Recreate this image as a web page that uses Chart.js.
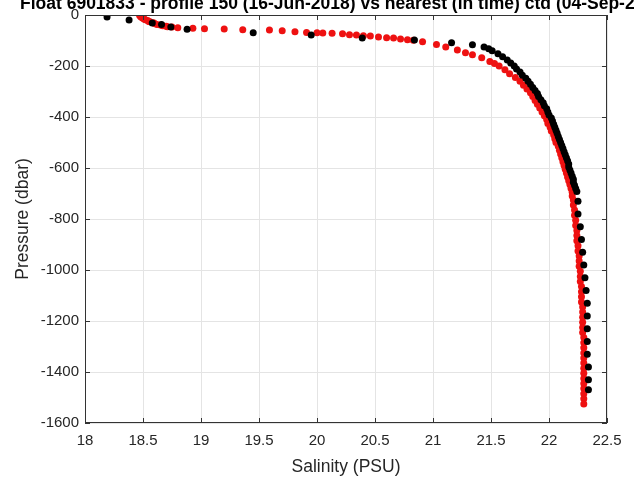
<!DOCTYPE html>
<html lang="en">
<head>
  <meta charset="UTF-8">
  <title>Float 6901833 - profile 150</title>
  <script src="https://cdn.jsdelivr.net/npm/chart.js"></script>
  <style>
    html, body { margin: 0; padding: 0; background: #fff; }
    #wrap { width: 634px; height: 479px; }
  </style>
</head>
<body>
  <div id="wrap"><canvas id="profileChart" width="634" height="479"></canvas></div>

  <script>
  const TITLE = 'Float 6901833 - profile 150 (16-Jun-2018) vs nearest (in time) ctd (04-Sep-2';
  const X_LABEL = 'Salinity (PSU)';
  const Y_LABEL = 'Pressure (dbar)';

  const xTicks = [18, 18.5, 19, 19.5, 20, 20.5, 21, 21.5, 22, 22.5];
  const yTicks = [-1600, -1400, -1200, -1000, -800, -600, -400, -200, 0];

  // float profile (red)
  const floatSal = [
    18.47, 18.48, 18.48, 18.49, 18.50, 18.51, 18.52, 18.54, 18.55, 18.56, 18.59, 18.60,
    18.62, 18.65, 18.67, 18.70, 18.71, 18.75, 18.80, 18.93, 19.03, 19.20, 19.36, 19.59,
    19.70, 19.81, 19.91, 20.00, 20.05, 20.13, 20.22, 20.28, 20.34, 20.40, 20.46, 20.53,
    20.60, 20.66, 20.72, 20.78, 20.83, 20.91, 21.03, 21.11, 21.21, 21.28, 21.34, 21.42,
    21.49, 21.53,
    21.57, 21.62, 21.66, 21.71, 21.75, 21.78, 21.81, 21.84, 21.86, 21.88, 21.90, 21.92,
    21.94, 21.96, 21.98, 21.99, 22.01, 22.02, 22.04, 22.05, 22.06, 22.08, 22.09, 22.10,
    22.11, 22.12, 22.13, 22.14, 22.15, 22.16, 22.17, 22.18, 22.19, 22.20, 22.20, 22.21,
    22.21, 22.22, 22.22, 22.23, 22.23, 22.24, 22.24, 22.24, 22.25, 22.25, 22.26, 22.26,
    22.26, 22.27, 22.27, 22.27, 22.28, 22.28, 22.28, 22.28, 22.29, 22.29, 22.29, 22.29,
    22.29, 22.29, 22.30, 22.30, 22.30, 22.30, 22.30, 22.30, 22.30, 22.30, 22.30, 22.30,
    22.30, 22.30, 22.30, 22.30
  ];
  const floatPres = [
    -1, -4, -7, -10, -13, -16, -19, -22, -25, -26, -30, -33,
    -37, -39, -42, -44, -46, -47, -50, -52, -54, -55, -58, -59,
    -62, -66, -69, -70, -71, -72, -74, -77, -78, -81, -82, -86,
    -89, -90, -94, -97, -99, -105, -116, -125, -137, -148, -156, -168,
    -182, -190,
    -200, -215, -230, -245, -260, -275, -290, -305, -320, -335, -350, -365,
    -380, -395, -410, -425, -440, -455, -470, -485, -500, -515, -530, -545,
    -560, -575, -590, -605, -620, -635, -650, -665, -680, -695, -710, -725,
    -745, -765, -785, -805, -825, -845, -865, -885, -905, -925, -945, -965,
    -985, -1005, -1025, -1045, -1065, -1085, -1105, -1125, -1145, -1165, -1185, -1205,
    -1225, -1245, -1265, -1285, -1305, -1325, -1345, -1365, -1385, -1405, -1425, -1445,
    -1465, -1485, -1505, -1525
  ];

  // nearest ctd cast (black)
  const ctdSal = [
    18.19, 18.38, 18.58, 18.66, 18.74, 18.88, 19.45, 19.95, 20.39, 20.84, 21.16, 21.34,
    21.44, 21.48,
    21.51, 21.56, 21.60, 21.64, 21.67, 21.70, 21.72, 21.75, 21.77, 21.80, 21.82, 21.84,
    21.86, 21.88, 21.90, 21.91, 21.93, 21.95, 21.96, 21.98, 21.99, 22.00, 22.02, 22.03,
    22.04, 22.05, 22.06, 22.07, 22.08, 22.09, 22.10, 22.11, 22.12, 22.13, 22.14, 22.15,
    22.16, 22.17, 22.17, 22.18, 22.19, 22.20, 22.21, 22.21, 22.22, 22.23, 22.24,
    22.25, 22.25, 22.27, 22.28, 22.29, 22.30, 22.31, 22.32, 22.33, 22.33, 22.33, 22.33,
    22.33, 22.34, 22.34, 22.34
  ];
  const ctdPres = [
    -8, -20, -31, -37, -47, -56, -70, -78, -90, -98, -109, -117,
    -125, -132,
    -140, -152, -164, -176, -188, -200, -212, -224, -236, -248, -260, -272,
    -284, -296, -308, -320, -332, -344, -356, -368, -380, -392, -404, -416,
    -428, -440, -452, -464, -476, -488, -500, -512, -524, -536, -548, -560,
    -572, -584, -596, -608, -620, -632, -644, -656, -668, -680, -692,
    -730, -780, -830, -880, -930, -980, -1030, -1080, -1130, -1180, -1230, -1280,
    -1330, -1380, -1430, -1470
  ];

  const FONT = "'Liberation Sans', Arial, Helvetica, sans-serif";
  const AXIS_COLOR = '#333333';
  const TEXT_COLOR = '#262626';

  const toPoints = (sal, pres) => sal.map((s, i) => ({ x: s, y: pres[i] }));

  // box round the axes, inward tick marks, title and axis labels
  const framePlugin = {
    id: 'frame',
    afterDraw(chart) {
      const { ctx, chartArea: a, scales } = chart;
      ctx.save();
      ctx.strokeStyle = AXIS_COLOR;
      ctx.lineWidth = 1;
      ctx.strokeRect(a.left + 0.5, a.top + 0.5, a.right - a.left - 1, a.bottom - a.top - 1);

      const tl = 5;
      ctx.beginPath();
      xTicks.forEach(v => {
        const px = Math.round(scales.x.getPixelForValue(v)) + 0.5;
        ctx.moveTo(px, a.bottom); ctx.lineTo(px, a.bottom - tl);
        ctx.moveTo(px, a.top); ctx.lineTo(px, a.top + tl);
      });
      yTicks.forEach(v => {
        const py = Math.round(scales.y.getPixelForValue(v)) + 0.5;
        ctx.moveTo(a.left, py); ctx.lineTo(a.left + tl, py);
        ctx.moveTo(a.right, py); ctx.lineTo(a.right - tl, py);
      });
      ctx.stroke();

      ctx.fillStyle = '#000';
      ctx.font = 'bold 17.5px ' + FONT;
      ctx.textAlign = 'left';
      ctx.textBaseline = 'alphabetic';
      ctx.fillText(TITLE, 20, 9);

      ctx.fillStyle = TEXT_COLOR;
      ctx.font = '17.5px ' + FONT;
      ctx.textAlign = 'center';
      ctx.textBaseline = 'middle';
      ctx.fillText(X_LABEL, (a.left + a.right) / 2, 467);

      ctx.translate(23, (a.top + a.bottom) / 2);
      ctx.rotate(-Math.PI / 2);
      ctx.fillText(Y_LABEL, 0, 0);
      ctx.restore();
    }
  };

  new Chart(document.getElementById('profileChart'), {
    type: 'scatter',
    data: {
      datasets: [
        {
          label: 'ctd',
          data: toPoints(ctdSal, ctdPres),
          backgroundColor: '#000000',
          borderWidth: 0,
          pointRadius: 3.5
        },
        {
          label: 'float',
          data: toPoints(floatSal, floatPres),
          backgroundColor: '#ee1111',
          borderWidth: 0,
          pointRadius: 3.5
        }
      ]
    },
    options: {
      responsive: false,
      animation: false,
      devicePixelRatio: 1,
      layout: { padding: { top: 14, right: 27, left: 0, bottom: 0 } },
      plugins: {
        legend: { display: false },
        tooltip: { enabled: false }
      },
      scales: {
        x: {
          type: 'linear',
          min: 18,
          max: 22.5,
          afterBuildTicks: s => { s.ticks = xTicks.map(v => ({ value: v })); },
          afterFit: s => { s.height = 56; },
          grid: { color: '#e4e4e4', drawTicks: false },
          border: { display: false },
          ticks: {
            callback: v => String(v),
            color: TEXT_COLOR,
            font: { family: FONT, size: 15 },
            padding: 9,
            maxRotation: 0
          }
        },
        y: {
          type: 'linear',
          min: -1600,
          max: 0,
          afterBuildTicks: s => { s.ticks = yTicks.map(v => ({ value: v })); },
          afterFit: s => { s.width = 85; },
          grid: { color: '#e4e4e4', drawTicks: false },
          border: { display: false },
          ticks: {
            callback: v => String(v),
            color: TEXT_COLOR,
            font: { family: FONT, size: 15 },
            padding: 6
          }
        }
      }
    },
    plugins: [framePlugin]
  });
  </script>
</body>
</html>
